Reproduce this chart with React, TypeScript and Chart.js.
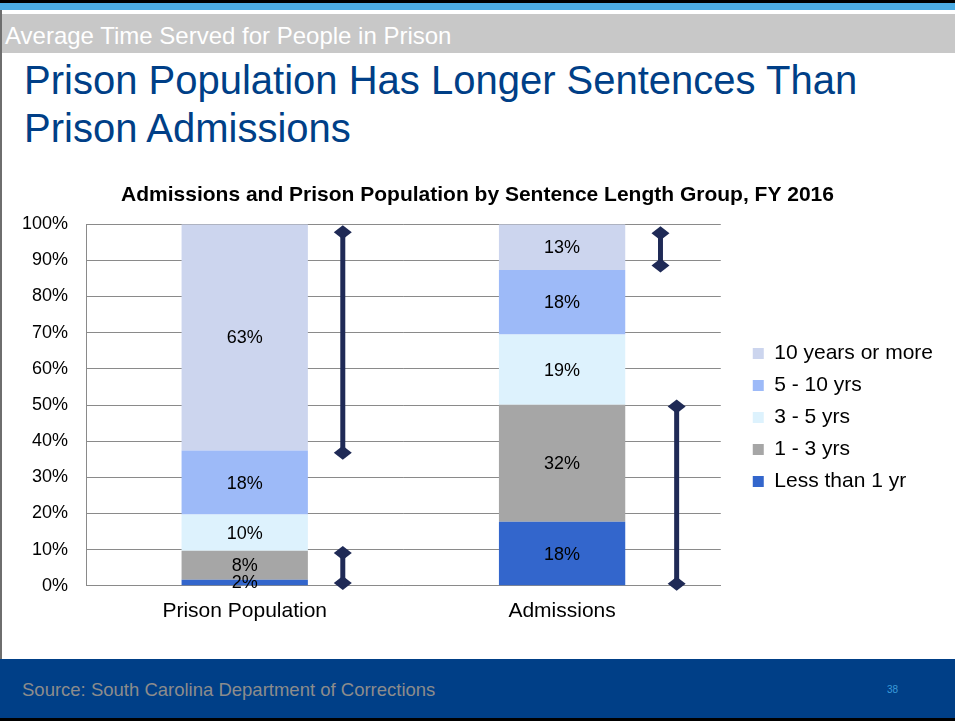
import React, { useEffect, useRef } from "react";
import { Chart, registerables } from "chart.js";

Chart.register(...registerables);

// ---------- data ----------
const categories = ["Prison Population", "Admissions"];

const seriesNames = ["Less than 1 yr", "1 - 3 yrs", "3 - 5 yrs", "5 - 10 yrs", "10 years or more"];
const lessThan1Yr = [1.7, 17.7];
const oneToThreeYrs = [8.0, 32.4];
const threeToFiveYrs = [10.0, 19.4];
const fiveToTenYrs = [17.7, 17.8];
const tenYearsOrMore = [62.6, 12.7];

const lessThan1YrLabels = ["2%", "18%"];
const oneToThreeYrsLabels = ["8%", "32%"];
const threeToFiveYrsLabels = ["10%", "19%"];
const fiveToTenYrsLabels = ["18%", "18%"];
const tenYearsOrMoreLabels = ["63%", "13%"];

const yTickLabels = ["0%", "10%", "20%", "30%", "40%", "50%", "60%", "70%", "80%", "90%", "100%"];

// bracket arrows (category index, lower value, upper value)
const arrowCategory = [0, 0, 1, 1];
const arrowFrom = [36.8, 0.8, 88.6, 0.6];
const arrowTo = [97.8, 9.1, 97.5, 49.6];

// ---------- styles ----------
const FONT = "'Liberation Sans', Arial, Helvetica, sans-serif";
const seriesColors = ["#3366CC", "#A6A6A6", "#DDF2FD", "#9DBAF8", "#CCD5EE"];
const arrowOffsets = [0.309, 0.309, 0.31, 0.361];
const ARROW_COLOR = "#1F2A56";
const GRID = "#8A8A8A";

const seriesValues = [lessThan1Yr, oneToThreeYrs, threeToFiveYrs, fiveToTenYrs, tenYearsOrMore];
const seriesLabels = [lessThan1YrLabels, oneToThreeYrsLabels, threeToFiveYrsLabels, fiveToTenYrsLabels, tenYearsOrMoreLabels];

const segmentLabelsPlugin = {
  id: "segmentLabels",
  afterDatasetsDraw(chart: any) {
    const ctx = chart.ctx;
    ctx.save();
    ctx.font = `18px ${FONT}`;
    ctx.fillStyle = "#000";
    ctx.textAlign = "center";
    ctx.textBaseline = "middle";
    chart.data.datasets.forEach((_ds: any, di: number) => {
      const meta = chart.getDatasetMeta(di);
      meta.data.forEach((el: any, i: number) => {
        const p = el.getProps(["x", "y", "base"], true);
        ctx.fillText(seriesLabels[di][i], p.x, (p.y + p.base) / 2 + 1);
      });
    });
    ctx.restore();
  },
};

const arrowsPlugin = {
  id: "bracketArrows",
  afterDatasetsDraw(chart: any) {
    const ctx = chart.ctx;
    const xs = chart.scales.x;
    const ys = chart.scales.y;
    const catW = (xs.right - xs.left) / categories.length;
    ctx.save();
    ctx.strokeStyle = ARROW_COLOR;
    ctx.fillStyle = ARROW_COLOR;
    ctx.lineWidth = 5;
    const diamond = (x: number, y: number) => {
      ctx.beginPath();
      ctx.moveTo(x, y - 7);
      ctx.lineTo(x + 9, y);
      ctx.lineTo(x, y + 7);
      ctx.lineTo(x - 9, y);
      ctx.closePath();
      ctx.fill();
    };
    arrowCategory.forEach((c, i) => {
      const x = xs.getPixelForValue(c) + arrowOffsets[i] * catW;
      const y1 = ys.getPixelForValue(arrowTo[i]);
      const y2 = ys.getPixelForValue(arrowFrom[i]);
      ctx.beginPath();
      ctx.moveTo(x, y1);
      ctx.lineTo(x, y2);
      ctx.stroke();
      diamond(x, y1);
      diamond(x, y2);
    });
    ctx.restore();
  },
};

const layoutShiftPlugin = {
  id: "layoutShift",
  afterLayout(chart: any) {
    const lg = chart.legend;
    if (lg) {
      lg.left += 21;
      lg.right += 21;
      lg.top += 12.5;
      lg.bottom += 12.5;
    }
    const tb = chart.titleBlock;
    if (tb) {
      tb.left += 14.5;
      tb.right += 14.5;
      tb.top += 1.5;
      tb.bottom += 1.5;
    }
  },
};

function StackedChart() {
  const ref = useRef<HTMLCanvasElement | null>(null);
  useEffect(() => {
    if (!ref.current) return;
    Chart.defaults.font.family = FONT;
    const chart = new Chart(ref.current, {
      type: "bar",
      data: {
        labels: categories,
        datasets: seriesNames.map((name, i) => ({
          label: name,
          data: seriesValues[i],
          backgroundColor: seriesColors[i],
          borderWidth: 0,
          borderColor: "rgba(0,0,0,0)",
          categoryPercentage: 1,
          barPercentage: 0.398,
        })),
      },
      options: {
        responsive: false,
        animation: false,
        layout: { padding: { left: 4, right: 33, top: 0, bottom: 11 } },
        plugins: {
          title: {
            display: true,
            text: "Admissions and Prison Population by Sentence Length Group, FY 2016",
            color: "#000",
            font: { size: 21, weight: "bold", family: FONT },
            padding: { top: 11, bottom: 18 },
          },
          legend: {
            display: true,
            position: "right",
            fullSize: false,
            reverse: true,
            labels: {
              color: "#000",
              font: { size: 21, family: FONT },
              boxWidth: 11,
              boxHeight: 11,
              padding: 11,
            },
          },
          tooltip: { enabled: false },
        },
        scales: {
          x: {
            stacked: true,
            grid: { display: false },
            border: { display: true, color: GRID, width: 1 },
            ticks: { color: "#000", font: { size: 21, family: FONT }, padding: 5 },
          },
          y: {
            stacked: true,
            min: 0,
            max: 100,
            grid: { color: GRID, lineWidth: 1, drawTicks: false },
            border: { display: true, color: GRID, width: 1 },
            ticks: {
              stepSize: 10,
              color: "#000",
              font: { size: 18, family: FONT },
              padding: 18,
              callback: (v: any) => yTickLabels[Math.round(Number(v) / 10)],
            },
          },
        },
      },
      plugins: [segmentLabelsPlugin, arrowsPlugin, layoutShiftPlugin],
    } as any);
    return () => chart.destroy();
  }, []);
  return (
    <canvas
      ref={ref}
      width={955}
      height={470}
      style={{ position: "absolute", left: 0, top: 170, width: 955, height: 470 }}
    />
  );
}

export default function App() {
  return (
    <div
      style={{
        position: "absolute",
        left: 0,
        top: 0,
        width: 955,
        height: 721,
        overflow: "hidden",
        background: "#fff",
        fontFamily: FONT,
      }}
    >
      <div style={{ position: "absolute", left: 0, top: 0, width: 955, height: 3, background: "#000" }} />
      <div style={{ position: "absolute", left: 0, top: 3, width: 955, height: 7, background: "#4BACE4" }} />
      <div style={{ position: "absolute", left: 0, top: 14, width: 955, height: 39, background: "#C8C8C8" }} />
      <div
        style={{
          position: "absolute",
          left: 5,
          top: 16,
          color: "#fff",
          fontSize: 24,
          lineHeight: "39px",
          whiteSpace: "nowrap",
        }}
      >
        Average Time Served for People in Prison
      </div>
      <div style={{ position: "absolute", left: 0, top: 10, width: 2, height: 711, background: "#6E6E6E" }} />
      <div
        style={{
          position: "absolute",
          left: 24,
          top: 56,
          width: 920,
          fontSize: 40,
          lineHeight: "48px",
          color: "#003F87",
          whiteSpace: "nowrap",
        }}
      >
        Prison Population Has Longer Sentences Than
        <br />
        Prison Admissions
      </div>
      <StackedChart />
      <div style={{ position: "absolute", left: 0, top: 659, width: 955, height: 59, background: "#003F87" }} />
      <div style={{ position: "absolute", left: 0, top: 718, width: 955, height: 3, background: "#000" }} />
      <div
        style={{
          position: "absolute",
          left: 22,
          top: 677,
          fontSize: 18.5,
          lineHeight: "26px",
          color: "#8C8C8C",
          whiteSpace: "nowrap",
        }}
      >
        Source: South Carolina Department of Corrections
      </div>
      <div
        style={{
          position: "absolute",
          left: 887,
          top: 684,
          fontSize: 10,
          lineHeight: "12px",
          color: "#3A9AD9",
        }}
      >
        38
      </div>
    </div>
  );
}
